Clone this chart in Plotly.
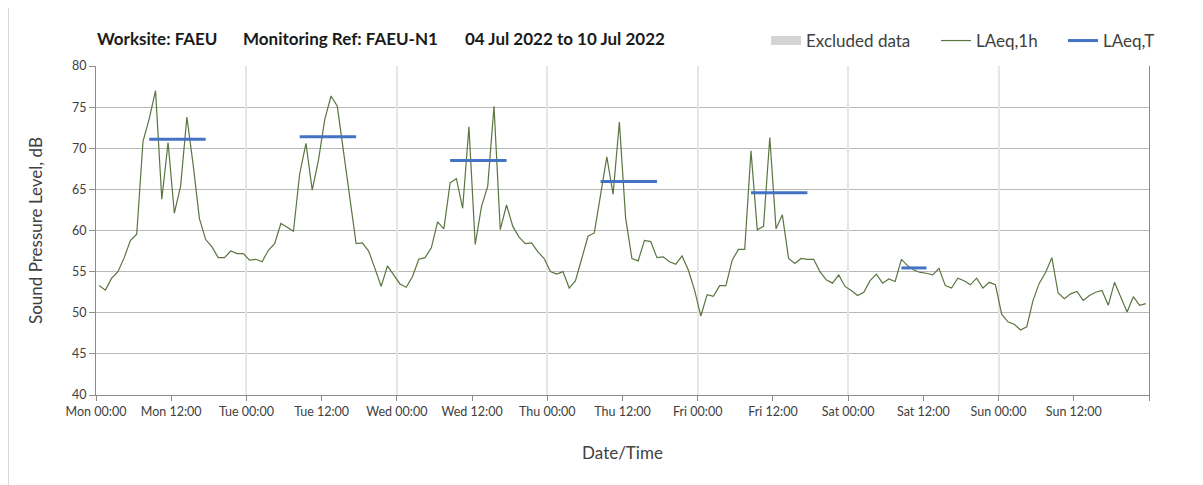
import pandas as pd
import plotly.graph_objects as go

# ---------------- data ----------------
start_date = "2022-07-04"

# LAeq,1h values (dB), one list per day, hours 00..23
mon = [53.3, 52.75, 54.2, 55.0, 56.7, 58.8, 59.55, 70.85, 73.6, 77.0, 63.8, 70.7,
       62.1, 65.4, 73.8, 68.0, 61.45, 58.9, 58.0, 56.7, 56.7, 57.5, 57.2, 57.2]
tue = [56.4, 56.5, 56.2, 57.6, 58.4, 60.85, 60.4, 59.9, 66.9, 70.6, 64.9, 68.6,
       73.5, 76.35, 75.1, 69.5, 63.5, 58.4, 58.5, 57.5, 55.4, 53.2, 55.7, 54.6]
wed = [53.5, 53.1, 54.4, 56.5, 56.7, 57.9, 61.05, 60.2, 65.8, 66.3, 62.7, 72.6,
       58.3, 62.9, 65.4, 75.1, 60.1, 63.1, 60.5, 59.2, 58.4, 58.5, 57.4, 56.6]
thu = [55.0, 54.7, 55.0, 53.0, 53.9, 56.6, 59.3, 59.7, 64.3, 68.95, 64.4, 73.2,
       61.5, 56.6, 56.3, 58.8, 58.65, 56.7, 56.8, 56.2, 55.9, 56.9, 55.2, 52.75]
fri = [49.6, 52.2, 52.0, 53.3, 53.3, 56.4, 57.7, 57.7, 69.7, 60.1, 60.5, 71.3,
       60.2, 61.9, 56.6, 56.0, 56.6, 56.5, 56.5, 55.0, 54.0, 53.6, 54.6, 53.2]
sat = [52.7, 52.1, 52.5, 53.9, 54.7, 53.6, 54.1, 53.8, 56.5, 55.7, 55.2, 54.9,
       54.8, 54.6, 55.4, 53.3, 53.0, 54.2, 53.9, 53.4, 54.2, 53.0, 53.7, 53.4]
sun = [49.8, 48.9, 48.6, 47.9, 48.3, 51.5, 53.6, 54.9, 56.7, 52.4, 51.7, 52.3,
       52.6, 51.5, 52.1, 52.5, 52.7, 50.9, 53.7, 51.95, 50.1, 51.95, 50.9, 51.1]

laeq_1h = mon + tue + wed + thu + fri + sat + sun

# LAeq,T (daytime periods): day index, first hour, last hour, level
laeqT_day = [0, 1, 2, 3, 4, 5]
laeqT_first_hour = [8, 8, 8, 8, 8, 8]
laeqT_last_hour = [17, 17, 17, 17, 17, 12]
laeqT_value = [71.1, 71.4, 68.5, 65.95, 64.6, 55.45]

y_ticks = [40, 45, 50, 55, 60, 65, 70, 75, 80]
x_tick_hours = [0, 12, 24, 36, 48, 60, 72, 84, 96, 108, 120, 132, 144, 156, 168]
x_tick_labels = ["Mon 00:00", "Mon 12:00", "Tue 00:00", "Tue 12:00", "Wed 00:00",
                 "Wed 12:00", "Thu 00:00", "Thu 12:00", "Fri 00:00", "Fri 12:00",
                 "Sat 00:00", "Sat 12:00", "Sun 00:00", "Sun 12:00", ""]

title_parts = ["Worksite: FAEU", "Monitoring Ref: FAEU-N1", "04 Jul 2022 to 10 Jul 2022"]

# ---------------- build ----------------
t0 = pd.Timestamp(start_date)
half = pd.Timedelta(minutes=30)
times = [t0 + pd.Timedelta(hours=h) + half for h in range(len(laeq_1h))]

tx, ty = [], []
for d, h1, h2, v in zip(laeqT_day, laeqT_first_hour, laeqT_last_hour, laeqT_value):
    tx += [t0 + pd.Timedelta(days=d, hours=h1) + half,
           t0 + pd.Timedelta(days=d, hours=h2) + half, None]
    ty += [v, v, None]

FONT = "Lato, 'Open Sans', sans-serif"
OFF = 8                      # page body margin of the html document
W, H = 1203 - OFF, 485 - OFF
ML, MT = 96 - OFF, 66 - OFF
MR = W - (1149 - OFF)
MB = H - (395 - OFF)
plot_w = W - ML - MR
plot_h = H - MT - MB

fig = go.Figure()

fig.add_trace(go.Scatter(x=[None], y=[None], mode="lines", name="Excluded data",
                         line=dict(color="#d4d4d4", width=9), hoverinfo="skip",
                         legend="legend"))
fig.add_trace(go.Scatter(x=times, y=laeq_1h, mode="lines", name="LAeq,1h",
                         line=dict(color="#5a7540", width=1.2), legend="legend2"))
fig.add_trace(go.Scatter(x=tx, y=ty, mode="lines", name="LAeq,T",
                         line=dict(color="#4472C4", width=3),
                         connectgaps=False, legend="legend3"))

x_range = [t0, t0 + pd.Timedelta(days=7)]
x_tickvals = [t0 + pd.Timedelta(hours=h) for h in x_tick_hours]


def legend_at(px):
    return dict(orientation="h", xref="container", yref="container",
                x=(px - OFF) / W, y=1 - (41 - OFF) / H, xanchor="left", yanchor="middle",
                font=dict(size=17, color="#404040", family=FONT), itemwidth=30,
                bgcolor="rgba(0,0,0,0)")


fig.update_layout(
    width=W, height=H,
    margin=dict(l=ML, r=MR, t=MT, b=MB, autoexpand=False),
    paper_bgcolor="white", plot_bgcolor="white",
    font=dict(family=FONT, color="#404040", size=12),
    showlegend=True,
    legend=legend_at(766),
    legend2=legend_at(936),
    legend3=legend_at(1063),
    xaxis=dict(
        type="date", range=x_range, tickvals=x_tickvals, ticktext=x_tick_labels,
        showgrid=False, zeroline=False, automargin=False,
        showline=True, linecolor="#8c8c8c", linewidth=1,
        ticks="outside", ticklen=5, tickcolor="#8c8c8c",
        tickfont=dict(size=12.5, color="#404040"),
        title=dict(text="Date/Time", font=dict(size=17, color="#404040"), standoff=29),
    ),
    xaxis2=dict(
        type="date", range=x_range, tick0=t0, dtick=24 * 3600 * 1000,
        overlaying="x", showgrid=True, gridcolor="#e6e6e6", gridwidth=1.5,
        showticklabels=False, ticks="", showline=False, zeroline=False,
        automargin=False,
    ),
    yaxis=dict(
        range=[40, 80], tickvals=y_ticks, showgrid=True, gridcolor="#b8b8b8",
        gridwidth=1, zeroline=False, showline=True, mirror=True, automargin=False,
        linecolor="#8c8c8c", linewidth=1, ticks="outside", ticklen=6,
        tickcolor="#8c8c8c", tickfont=dict(size=12.5, color="#404040"),
        title=dict(text="Sound Pressure Level, dB", font=dict(size=17, color="#404040"),
                   standoff=25),
    ),
)

# invisible trace to activate the day-boundary grid on xaxis2
fig.add_trace(go.Scatter(x=x_range, y=[None, None], xaxis="x2", showlegend=False,
                         hoverinfo="skip", mode="lines"))

title_px = [95, 241, 463]
for txt, px in zip(title_parts, title_px):
    fig.add_annotation(text="<b>%s</b>" % txt, xref="paper", yref="paper",
                       x=(px - 96) / plot_w, y=1 + (66 - 38) / plot_h,
                       xanchor="left", yanchor="middle", showarrow=False,
                       font=dict(size=17, color="#1a1a1a", family=FONT))

# outer chart frame (left edge)
fig.add_shape(type="line", xref="paper", yref="paper",
              x0=-(ML - 0.5) / plot_w, x1=-(ML - 0.5) / plot_w,
              y0=-MB / plot_h, y1=1 + MT / plot_h,
              line=dict(color="#d9d9d9", width=1))

fig.write_html("out.html")
